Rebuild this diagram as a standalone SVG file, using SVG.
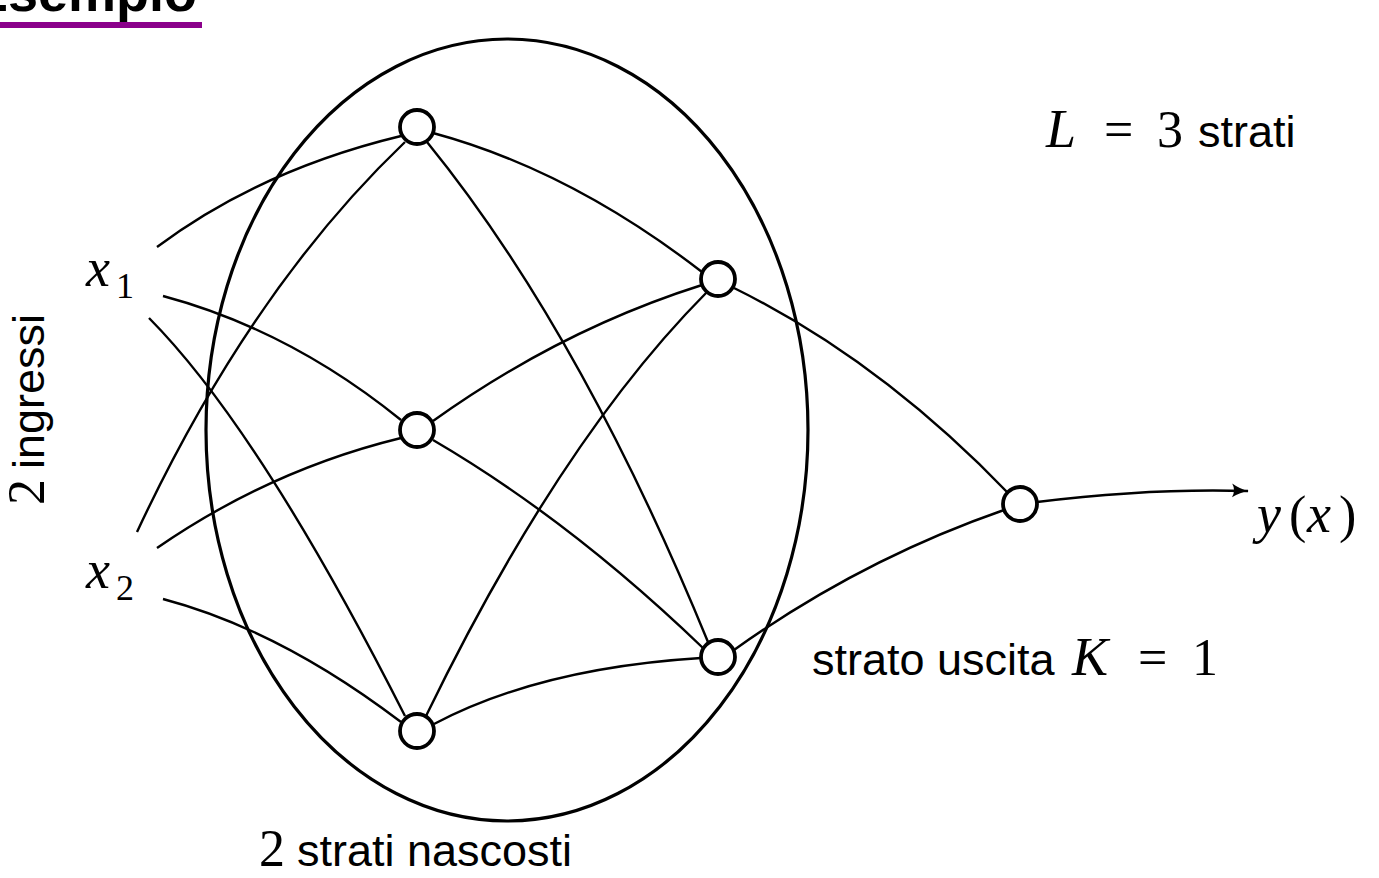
<svg xmlns="http://www.w3.org/2000/svg" width="1379" height="878" viewBox="0 0 1379 878">
<style>
.e{fill:none;stroke:#000;stroke-width:2.4}
.n{fill:#fff;stroke:#000;stroke-width:3.8}
.s{font-family:"Liberation Sans",Arial,sans-serif;font-size:45px;fill:#000}
.m{font-family:"Liberation Serif","DejaVu Serif",serif;font-size:52px;fill:#000}
.mi{font-family:"Liberation Serif","DejaVu Serif",serif;font-size:54px;font-style:italic;fill:#000}
.sub{font-family:"Liberation Serif","DejaVu Serif",serif;font-size:36px;fill:#000}
</style>
<defs>
<marker id="arr" markerWidth="18" markerHeight="16" refX="16" refY="8" orient="auto" markerUnits="userSpaceOnUse">
<path d="M0,1 Q8,6.5 17,8 Q8,9.5 0,15 Q4,8 0,1Z" fill="#000"/>
</marker>
</defs>
<g id="title">
<text x="197" y="11" text-anchor="end" style="font-family:'Liberation Sans',Arial,sans-serif;font-size:54px;font-weight:bold">Esempio</text>
<rect x="0" y="22" width="202" height="6" fill="#8b008b"/>
</g>
<g id="ellipse-hidden">
<ellipse cx="507" cy="430" rx="301" ry="391" fill="none" stroke="#000" stroke-width="3.2"/>
</g>
<g id="connectors">
<path class="e" d="M157,247 Q260,170 401,136"/>
<path class="e" d="M163,296 Q290,330 401,420"/>
<path class="e" d="M149,318 Q260,430 405,716"/>
<path class="e" d="M137,532 Q250,290 405,142"/>
<path class="e" d="M157,548 Q270,470 401,438"/>
<path class="e" d="M163,599 Q280,630 401,722"/>
<path class="e" d="M433,133 Q570,170 702,272"/>
<path class="e" d="M427,142 Q580,330 708,642"/>
<path class="e" d="M433,421 Q560,330 702,285"/>
<path class="e" d="M433,440 Q570,520 703,648"/>
<path class="e" d="M426,716 Q560,440 707,292"/>
<path class="e" d="M434,724 Q540,668 701,658"/>
<path class="e" d="M734,288 Q880,360 1008,493"/>
<path class="e" d="M734,650 Q860,560 1004,510"/>
<path class="e" d="M1037,502 Q1150,488 1248,491" marker-end="url(#arr)"/>
</g>
<g id="node-h1a"><circle class="n" cx="417" cy="127" r="17"/></g>
<g id="node-h1b"><circle class="n" cx="417" cy="430" r="17"/></g>
<g id="node-h1c"><circle class="n" cx="417" cy="731" r="17"/></g>
<g id="node-h2a"><circle class="n" cx="718" cy="279" r="17"/></g>
<g id="node-h2b"><circle class="n" cx="718" cy="657" r="17"/></g>
<g id="node-out"><circle class="n" cx="1020" cy="504" r="17"/></g>
<g id="labels">
<text class="mi" x="86" y="286">x</text><text class="sub" x="116" y="298">1</text>
<text class="mi" x="86" y="588">x</text><text class="sub" x="116" y="600">2</text>
<text class="mi" x="1046" y="147">L</text>
<text class="m" x="1104" y="147">=</text>
<text class="m" x="1157" y="147">3</text>
<text class="s" x="1198" y="147">strati</text>
<text class="mi" x="1257" y="532">y</text>
<text class="m" x="1289" y="532">(</text>
<text class="mi" x="1307" y="532">x</text>
<text class="m" x="1339" y="532">)</text>
<text class="s" x="812" y="675">strato uscita</text>
<text class="mi" x="1072" y="675">K</text>
<text class="m" x="1138" y="675">=</text>
<text class="m" x="1192" y="675">1</text>
<text class="m" x="259" y="866">2</text>
<text class="s" x="297" y="866">strati nascosti</text>
<g transform="translate(44,505) rotate(-90)"><text class="m" x="0" y="0">2</text><text class="s" x="36" y="0">ingressi</text></g>
</g>
</svg>
